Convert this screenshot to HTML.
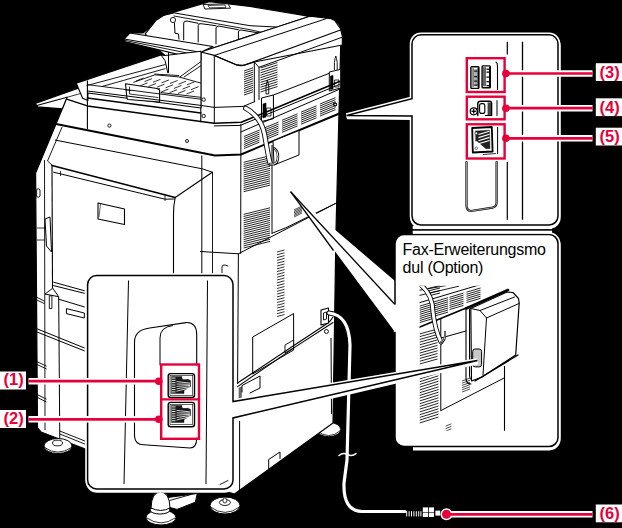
<!DOCTYPE html><html><head><meta charset="utf-8"><style>
html,body{margin:0;padding:0;background:#000;}
svg{display:block;}
text{font-family:"Liberation Sans",sans-serif;}
</style></head><body>
<svg width="622" height="528" viewBox="0 0 622 528">
<rect width="622" height="528" fill="#000"/>
<ellipse cx="328.7" cy="429.5" rx="12" ry="7.2" fill="#fff" stroke="#000" stroke-width="1"/>
<path d="M316.8,430.5 Q328.7,441 340.6,430.5" fill="none" stroke="#000" stroke-width="0.8" stroke-linejoin="round" stroke-linecap="round" />
<polygon points="35.3,103.5 78.3,88.1 75.8,83.4 165.0,55.5 157.0,48.5 124.5,41.5 124.2,39.0 129.8,33.0 143.0,33.0 165.0,14.6 207.8,3.1 250.0,7.3 335.0,20.0 339.7,25.0 341.0,35.0 338.5,132.0 336.0,230.0 333.0,423.0 234.5,494.0 84.0,448.5 41.0,432.0 37.5,428.0 35.6,173.0 67.1,97.3 62.5,108.9 37.7,106.9" fill="#fff" stroke="#000" stroke-width="1.2" stroke-linejoin="round" />
<polygon points="145.2,33.9 155.8,20.6 163.8,15.3 209.5,1.6 250.0,6.4 295.0,14.0 309.2,16.4 200.8,52.0 157.0,48.5" fill="#fff" stroke="#000" stroke-width="1.1" stroke-linejoin="round" />
<polygon points="203.0,4.5 228.0,3.8 230.5,8.2 205.0,9.0" fill="#fff" stroke="#000" stroke-width="0.9" stroke-linejoin="round" />
<polygon points="208.0,5.5 225.0,5.0 226.0,7.4 209.5,7.8" fill="#fff" stroke="#000" stroke-width="0.7" stroke-linejoin="round" />
<polyline points="163.8,15.3 174.0,12.9 250.0,25.7 276.0,27.0" fill="none" stroke="#000" stroke-width="1" stroke-linejoin="round" stroke-linecap="round" />
<polyline points="174.0,16.0 250.0,29.7 261.4,32.3" fill="none" stroke="#000" stroke-width="0.9" stroke-linejoin="round" stroke-linecap="round" />
<path d="M183.7,39.8 V23 Q184,20.6 187,21 L198.2,23.3" fill="none" stroke="#000" stroke-width="1" stroke-linejoin="round" stroke-linecap="round" />
<path d="M198.2,42 V25.5 Q198.5,23.3 201,23.7 L216,25.7" fill="none" stroke="#000" stroke-width="1" stroke-linejoin="round" stroke-linecap="round" />
<path d="M216,44 V28 Q216.3,25.7 219,26.1 L238.4,29.7" fill="none" stroke="#000" stroke-width="1" stroke-linejoin="round" stroke-linecap="round" />
<path d="M238.4,44 V32 Q238.7,29.7 241,30 L262,33.5" fill="none" stroke="#000" stroke-width="1" stroke-linejoin="round" stroke-linecap="round" />
<path d="M174.4,22.6 L175,33.2 L178.4,33.9 L179,39.2" fill="none" stroke="#000" stroke-width="1" stroke-linejoin="round" stroke-linecap="round" />
<circle cx="173" cy="20" r="2.6" fill="#fff" stroke="#000" stroke-width="0.9"/>
<polygon points="200.8,52.0 309.2,16.4 312.5,16.4 331.0,18.7 334.8,20.6 340.5,28.7 342.3,36.2 342.3,45.0 254.3,62.0 243.4,65.4 236.8,64.9 214.4,55.4" fill="#fff" stroke="#000" stroke-width="1.1" stroke-linejoin="round" />
<polyline points="214.4,55.4 326.2,18.7" fill="none" stroke="#000" stroke-width="1" stroke-linejoin="round" stroke-linecap="round" />
<path d="M214.4,55.4 L236.8,64.9 Q240,66 243.4,65.4 L340.5,30.1" fill="none" stroke="#000" stroke-width="1.1" stroke-linejoin="round" stroke-linecap="round" />
<polyline points="259.0,67.3 342.3,37.2" fill="none" stroke="#000" stroke-width="1" stroke-linejoin="round" stroke-linecap="round" />
<line x1="254.3" y1="62" x2="259" y2="67.3" stroke="#000" stroke-width="0.9" />
<line x1="200.8" y1="52" x2="200.8" y2="121" stroke="#000" stroke-width="1.1" />
<line x1="214.3" y1="55.4" x2="214.3" y2="123" stroke="#000" stroke-width="1" />
<polygon points="124.2,39.0 129.8,33.0 213.0,46.5 200.8,52.3 200.8,59.9 124.5,41.5" fill="#fff" stroke="#000" stroke-width="1.1" stroke-linejoin="round" />
<line x1="124.2" y1="39" x2="200.8" y2="52.3" stroke="#000" stroke-width="1" />
<line x1="124.5" y1="40.3" x2="200.8" y2="55.8" stroke="#000" stroke-width="0.9" />
<polygon points="76.3,83.3 161.0,55.0 165.0,55.5 201.0,51.3 201.0,108.0 87.9,93.0 87.9,100.5 82.6,98.2" fill="#fff" stroke="#000" stroke-width="1.1" stroke-linejoin="round" />
<line x1="36.75" y1="105.5" x2="67.1" y2="97.3" stroke="#000" stroke-width="1.1" />
<line x1="67.1" y1="97.3" x2="80.5" y2="93.5" stroke="#000" stroke-width="0.8" />
<path d="M161,55 L165,60.5 L167.8,72.8" fill="none" stroke="#000" stroke-width="1" stroke-linejoin="round" stroke-linecap="round" />
<line x1="168.5" y1="52" x2="168.5" y2="72.8" stroke="#000" stroke-width="1" />
<polyline points="154.8,74.1 178.7,75.5" fill="none" stroke="#000" stroke-width="0.9" stroke-linejoin="round" stroke-linecap="round" />
<polyline points="87.0,85.5 165.0,64.6" fill="none" stroke="#000" stroke-width="0.9" stroke-linejoin="round" stroke-linecap="round" />
<polyline points="102.0,86.5 165.0,68.7" fill="none" stroke="#000" stroke-width="0.9" stroke-linejoin="round" stroke-linecap="round" />
<polyline points="133.7,82.3 154.8,74.8 178.7,76.9 200.6,83.0" fill="none" stroke="#000" stroke-width="0.9" stroke-linejoin="round" stroke-linecap="round" />
<polyline points="161.0,92.6 200.6,97.3" fill="none" stroke="#000" stroke-width="0.9" stroke-linejoin="round" stroke-linecap="round" />
<line x1="136" y1="81.0" x2="143.5" y2="78.0" stroke="#000" stroke-width="0.8" />
<line x1="144.5" y1="81.6" x2="152.0" y2="78.6" stroke="#000" stroke-width="0.8" />
<line x1="153.0" y1="82.3" x2="160.5" y2="79.3" stroke="#000" stroke-width="0.8" />
<line x1="161.5" y1="82.9" x2="169.0" y2="79.9" stroke="#000" stroke-width="0.8" />
<line x1="170.0" y1="83.5" x2="177.5" y2="80.5" stroke="#000" stroke-width="0.8" />
<line x1="178.5" y1="84.2" x2="186.0" y2="81.2" stroke="#000" stroke-width="0.8" />
<line x1="187.0" y1="84.8" x2="194.5" y2="81.8" stroke="#000" stroke-width="0.8" />
<line x1="140" y1="85.9" x2="147.5" y2="82.9" stroke="#000" stroke-width="0.8" />
<line x1="148.5" y1="86.5" x2="156.0" y2="83.5" stroke="#000" stroke-width="0.8" />
<line x1="157.0" y1="87.2" x2="164.5" y2="84.2" stroke="#000" stroke-width="0.8" />
<line x1="165.5" y1="87.8" x2="173.0" y2="84.8" stroke="#000" stroke-width="0.8" />
<line x1="174.0" y1="88.4" x2="181.5" y2="85.4" stroke="#000" stroke-width="0.8" />
<line x1="182.5" y1="89.1" x2="190.0" y2="86.1" stroke="#000" stroke-width="0.8" />
<line x1="191.0" y1="89.7" x2="198.5" y2="86.7" stroke="#000" stroke-width="0.8" />
<line x1="144" y1="90.8" x2="151.5" y2="87.8" stroke="#000" stroke-width="0.8" />
<line x1="152.5" y1="91.4" x2="160.0" y2="88.4" stroke="#000" stroke-width="0.8" />
<line x1="161.0" y1="92.1" x2="168.5" y2="89.1" stroke="#000" stroke-width="0.8" />
<line x1="169.5" y1="92.7" x2="177.0" y2="89.7" stroke="#000" stroke-width="0.8" />
<line x1="178.0" y1="93.4" x2="185.5" y2="90.4" stroke="#000" stroke-width="0.8" />
<line x1="186.5" y1="94.0" x2="194.0" y2="91.0" stroke="#000" stroke-width="0.8" />
<polyline points="180.0,76.9 200.6,61.8" fill="none" stroke="#000" stroke-width="0.9" stroke-linejoin="round" stroke-linecap="round" />
<polyline points="184.2,76.9 200.6,65.9" fill="none" stroke="#000" stroke-width="0.9" stroke-linejoin="round" stroke-linecap="round" />
<path d="M125.5,83.7 L157,88.5 L159.6,90 V102 L128,99.5 Q126.8,99 126.8,97 Z" fill="#fff" stroke="#000" stroke-width="1.1" stroke-linejoin="round" stroke-linecap="round" />
<polyline points="129.5,87.0 129.5,94.0 158.0,97.5" fill="none" stroke="#000" stroke-width="0.8" stroke-linejoin="round" stroke-linecap="round" />
<polyline points="126.0,90.0 131.0,90.5" fill="none" stroke="#000" stroke-width="0.7" stroke-linejoin="round" stroke-linecap="round" />
<line x1="87.4" y1="80.5" x2="87.4" y2="129" stroke="#000" stroke-width="1.1" />
<polyline points="87.4,84.6 200.8,99.2" fill="none" stroke="#000" stroke-width="0.9" stroke-linejoin="round" stroke-linecap="round" />
<polyline points="87.4,91.0 200.8,105.4" fill="none" stroke="#000" stroke-width="1" stroke-linejoin="round" stroke-linecap="round" />
<polyline points="87.4,98.0 200.8,113.1" fill="none" stroke="#000" stroke-width="1.5" stroke-linejoin="round" stroke-linecap="round" />
<polyline points="67.4,99.4 87.4,105.9 200.8,121.5" fill="none" stroke="#000" stroke-width="1.5" stroke-linejoin="round" stroke-linecap="round" />
<circle cx="203.7" cy="99.6" r="1.7" fill="none" stroke="#000" stroke-width="0.9"/>
<circle cx="203.7" cy="116" r="1.7" fill="none" stroke="#000" stroke-width="0.9"/>
<circle cx="109.4" cy="125.6" r="1.6" fill="none" stroke="#000" stroke-width="0.9"/>
<line x1="254.3" y1="62" x2="254.3" y2="102" stroke="#000" stroke-width="1" />
<line x1="259" y1="67.3" x2="259" y2="100" stroke="#000" stroke-width="1" />
<line x1="244.0" y1="71.0" x2="253.0" y2="67.8" stroke="#000" stroke-width="0.85" />
<line x1="244.0" y1="73.2" x2="253.0" y2="70.0" stroke="#000" stroke-width="0.85" />
<line x1="244.0" y1="75.4" x2="253.0" y2="72.2" stroke="#000" stroke-width="0.85" />
<line x1="244.0" y1="77.5" x2="253.0" y2="74.3" stroke="#000" stroke-width="0.85" />
<line x1="244.0" y1="79.7" x2="253.0" y2="76.5" stroke="#000" stroke-width="0.85" />
<line x1="244.0" y1="81.9" x2="253.0" y2="78.7" stroke="#000" stroke-width="0.85" />
<line x1="244.0" y1="84.1" x2="253.0" y2="80.9" stroke="#000" stroke-width="0.85" />
<line x1="244.0" y1="86.3" x2="253.0" y2="83.1" stroke="#000" stroke-width="0.85" />
<line x1="244.0" y1="88.5" x2="253.0" y2="85.3" stroke="#000" stroke-width="0.85" />
<line x1="244.0" y1="90.6" x2="253.0" y2="87.4" stroke="#000" stroke-width="0.85" />
<line x1="244.0" y1="92.8" x2="253.0" y2="89.6" stroke="#000" stroke-width="0.85" />
<line x1="244.0" y1="95.0" x2="253.0" y2="91.8" stroke="#000" stroke-width="0.85" />
<line x1="260.5" y1="68.0" x2="277.5" y2="62.5" stroke="#000" stroke-width="0.85" />
<line x1="260.5" y1="70.4" x2="277.5" y2="64.9" stroke="#000" stroke-width="0.85" />
<line x1="260.5" y1="72.8" x2="277.5" y2="67.3" stroke="#000" stroke-width="0.85" />
<line x1="260.5" y1="75.2" x2="277.5" y2="69.7" stroke="#000" stroke-width="0.85" />
<line x1="260.5" y1="77.6" x2="277.5" y2="72.1" stroke="#000" stroke-width="0.85" />
<line x1="260.5" y1="80.0" x2="277.5" y2="74.5" stroke="#000" stroke-width="0.85" />
<line x1="260.5" y1="82.4" x2="277.5" y2="76.9" stroke="#000" stroke-width="0.85" />
<line x1="260.5" y1="84.8" x2="277.5" y2="79.3" stroke="#000" stroke-width="0.85" />
<line x1="260.5" y1="87.2" x2="277.5" y2="81.7" stroke="#000" stroke-width="0.85" />
<line x1="260.5" y1="89.6" x2="277.5" y2="84.1" stroke="#000" stroke-width="0.85" />
<line x1="260.5" y1="92.0" x2="277.5" y2="86.5" stroke="#000" stroke-width="0.85" />
<polyline points="272.7,95.3 329.3,73.3" fill="none" stroke="#000" stroke-width="1" stroke-linejoin="round" stroke-linecap="round" />
<line x1="273" y1="95.3" x2="273.3" y2="109.3" stroke="#000" stroke-width="1" />
<polygon points="261.5,98.0 273.4,95.0 273.4,118.7 261.5,121.5" fill="#fff" stroke="#000" stroke-width="1" stroke-linejoin="round" />
<polygon points="263.0,104.0 266.0,103.0 266.0,117.0 263.0,118.0" fill="#000" stroke="#000" stroke-width="0.6" stroke-linejoin="round" />
<path d="M267,108 h4 v8 h-4 z" fill="none" stroke="#000" stroke-width="0.8" stroke-linejoin="round" stroke-linecap="round" />
<polygon points="329.3,72.0 340.7,69.3 340.7,88.0 329.3,91.0" fill="#fff" stroke="#000" stroke-width="1" stroke-linejoin="round" />
<polygon points="330.5,76.0 333.0,75.5 333.0,89.0 330.5,89.5" fill="#000" stroke="#000" stroke-width="0.6" stroke-linejoin="round" />
<path d="M335,80 h4 v7 h-4 z" fill="none" stroke="#000" stroke-width="0.8" stroke-linejoin="round" stroke-linecap="round" />
<path d="M266,93.5 Q265.3,86 267.4,80 Q269.4,86 268.8,93.5 Z" fill="none" stroke="#000" stroke-width="0.9" stroke-linejoin="round" stroke-linecap="round" />
<path d="M334.4,69.5 V62.5 Q335,58 335.8,56 Q336.6,58 337.2,62.5 V69.5" fill="none" stroke="#000" stroke-width="0.9" stroke-linejoin="round" stroke-linecap="round" />
<polyline points="200.8,121.5 214.3,123.3 241.3,122.3 339.4,81.5" fill="none" stroke="#000" stroke-width="1.6" stroke-linejoin="round" stroke-linecap="round" />
<polyline points="214.3,125.9 240.3,125.4 339.4,84.5" fill="none" stroke="#000" stroke-width="1" stroke-linejoin="round" stroke-linecap="round" />
<polyline points="241.0,131.9 339.4,89.3" fill="none" stroke="#000" stroke-width="1" stroke-linejoin="round" stroke-linecap="round" />
<circle cx="335.2" cy="104.4" r="1.5" fill="none" stroke="#000" stroke-width="0.9"/>
<polyline points="56.0,124.0 215.0,155.5 241.0,154.5 339.4,113.5" fill="none" stroke="#000" stroke-width="1.9" stroke-linejoin="round" stroke-linecap="round" />
<line x1="240.9" y1="123.9" x2="240.7" y2="253.8" stroke="#000" stroke-width="1" />
<polyline points="200.8,105.4 214.3,107.4 243.2,106.4 254.8,101.6" fill="none" stroke="#000" stroke-width="1" stroke-linejoin="round" stroke-linecap="round" />
<line x1="244.0" y1="136.5" x2="259.5" y2="130.1" stroke="#000" stroke-width="0.85" />
<line x1="244.0" y1="138.5" x2="259.5" y2="132.1" stroke="#000" stroke-width="0.85" />
<line x1="244.0" y1="140.5" x2="259.5" y2="134.1" stroke="#000" stroke-width="0.85" />
<line x1="244.0" y1="142.5" x2="259.5" y2="136.1" stroke="#000" stroke-width="0.85" />
<line x1="244.0" y1="144.5" x2="259.5" y2="138.1" stroke="#000" stroke-width="0.85" />
<line x1="244.0" y1="146.5" x2="259.5" y2="140.1" stroke="#000" stroke-width="0.85" />
<line x1="244.0" y1="148.5" x2="259.5" y2="142.1" stroke="#000" stroke-width="0.85" />
<line x1="263.0" y1="128.5" x2="278.5" y2="122.1" stroke="#000" stroke-width="0.85" />
<line x1="263.0" y1="130.5" x2="278.5" y2="124.1" stroke="#000" stroke-width="0.85" />
<line x1="263.0" y1="132.5" x2="278.5" y2="126.1" stroke="#000" stroke-width="0.85" />
<line x1="263.0" y1="134.5" x2="278.5" y2="128.1" stroke="#000" stroke-width="0.85" />
<line x1="263.0" y1="136.5" x2="278.5" y2="130.1" stroke="#000" stroke-width="0.85" />
<line x1="263.0" y1="138.5" x2="278.5" y2="132.1" stroke="#000" stroke-width="0.85" />
<line x1="263.0" y1="140.5" x2="278.5" y2="134.1" stroke="#000" stroke-width="0.85" />
<line x1="282.0" y1="120.3" x2="297.5" y2="113.9" stroke="#000" stroke-width="0.85" />
<line x1="282.0" y1="122.3" x2="297.5" y2="115.9" stroke="#000" stroke-width="0.85" />
<line x1="282.0" y1="124.3" x2="297.5" y2="117.9" stroke="#000" stroke-width="0.85" />
<line x1="282.0" y1="126.3" x2="297.5" y2="119.9" stroke="#000" stroke-width="0.85" />
<line x1="282.0" y1="128.3" x2="297.5" y2="121.9" stroke="#000" stroke-width="0.85" />
<line x1="282.0" y1="130.3" x2="297.5" y2="123.9" stroke="#000" stroke-width="0.85" />
<line x1="282.0" y1="132.3" x2="297.5" y2="125.9" stroke="#000" stroke-width="0.85" />
<line x1="301.0" y1="112.2" x2="316.5" y2="105.8" stroke="#000" stroke-width="0.85" />
<line x1="301.0" y1="114.2" x2="316.5" y2="107.8" stroke="#000" stroke-width="0.85" />
<line x1="301.0" y1="116.2" x2="316.5" y2="109.8" stroke="#000" stroke-width="0.85" />
<line x1="301.0" y1="118.2" x2="316.5" y2="111.8" stroke="#000" stroke-width="0.85" />
<line x1="301.0" y1="120.2" x2="316.5" y2="113.8" stroke="#000" stroke-width="0.85" />
<line x1="301.0" y1="122.2" x2="316.5" y2="115.8" stroke="#000" stroke-width="0.85" />
<line x1="301.0" y1="124.2" x2="316.5" y2="117.8" stroke="#000" stroke-width="0.85" />
<line x1="320.0" y1="104.0" x2="335.5" y2="97.6" stroke="#000" stroke-width="0.85" />
<line x1="320.0" y1="106.0" x2="335.5" y2="99.6" stroke="#000" stroke-width="0.85" />
<line x1="320.0" y1="108.0" x2="335.5" y2="101.6" stroke="#000" stroke-width="0.85" />
<line x1="320.0" y1="110.0" x2="335.5" y2="103.6" stroke="#000" stroke-width="0.85" />
<line x1="320.0" y1="112.0" x2="335.5" y2="105.6" stroke="#000" stroke-width="0.85" />
<line x1="320.0" y1="114.0" x2="335.5" y2="107.6" stroke="#000" stroke-width="0.85" />
<line x1="320.0" y1="116.0" x2="335.5" y2="109.6" stroke="#000" stroke-width="0.85" />
<line x1="243.6" y1="162.3" x2="270.0" y2="155.7" stroke="#000" stroke-width="0.85" />
<line x1="243.6" y1="164.4" x2="270.0" y2="157.8" stroke="#000" stroke-width="0.85" />
<line x1="243.6" y1="166.5" x2="270.0" y2="159.9" stroke="#000" stroke-width="0.85" />
<line x1="243.6" y1="168.6" x2="270.0" y2="162.0" stroke="#000" stroke-width="0.85" />
<line x1="243.6" y1="170.7" x2="270.0" y2="164.1" stroke="#000" stroke-width="0.85" />
<line x1="243.6" y1="172.8" x2="270.0" y2="166.2" stroke="#000" stroke-width="0.85" />
<line x1="243.6" y1="174.9" x2="270.0" y2="168.3" stroke="#000" stroke-width="0.85" />
<line x1="243.6" y1="177.0" x2="270.0" y2="170.4" stroke="#000" stroke-width="0.85" />
<line x1="243.6" y1="179.1" x2="270.0" y2="172.5" stroke="#000" stroke-width="0.85" />
<line x1="243.6" y1="181.2" x2="270.0" y2="174.6" stroke="#000" stroke-width="0.85" />
<line x1="243.6" y1="183.3" x2="270.0" y2="176.7" stroke="#000" stroke-width="0.85" />
<line x1="243.6" y1="185.4" x2="270.0" y2="178.8" stroke="#000" stroke-width="0.85" />
<line x1="243.6" y1="187.5" x2="270.0" y2="180.9" stroke="#000" stroke-width="0.85" />
<line x1="243.6" y1="189.6" x2="270.0" y2="183.0" stroke="#000" stroke-width="0.85" />
<line x1="243.6" y1="191.7" x2="270.0" y2="185.1" stroke="#000" stroke-width="0.85" />
<line x1="243.6" y1="214.4" x2="270.0" y2="207.8" stroke="#000" stroke-width="0.85" />
<line x1="243.6" y1="216.5" x2="270.0" y2="209.9" stroke="#000" stroke-width="0.85" />
<line x1="243.6" y1="218.6" x2="270.0" y2="212.0" stroke="#000" stroke-width="0.85" />
<line x1="243.6" y1="220.7" x2="270.0" y2="214.1" stroke="#000" stroke-width="0.85" />
<line x1="243.6" y1="222.8" x2="270.0" y2="216.2" stroke="#000" stroke-width="0.85" />
<line x1="243.6" y1="224.9" x2="270.0" y2="218.3" stroke="#000" stroke-width="0.85" />
<line x1="243.6" y1="227.0" x2="270.0" y2="220.4" stroke="#000" stroke-width="0.85" />
<line x1="243.6" y1="229.1" x2="270.0" y2="222.5" stroke="#000" stroke-width="0.85" />
<line x1="243.6" y1="231.2" x2="270.0" y2="224.6" stroke="#000" stroke-width="0.85" />
<line x1="243.6" y1="233.3" x2="270.0" y2="226.7" stroke="#000" stroke-width="0.85" />
<line x1="243.6" y1="235.4" x2="270.0" y2="228.8" stroke="#000" stroke-width="0.85" />
<line x1="243.6" y1="237.5" x2="270.0" y2="230.9" stroke="#000" stroke-width="0.85" />
<line x1="243.6" y1="239.6" x2="270.0" y2="233.0" stroke="#000" stroke-width="0.85" />
<line x1="243.6" y1="241.7" x2="270.0" y2="235.1" stroke="#000" stroke-width="0.85" />
<line x1="243.6" y1="243.8" x2="270.0" y2="237.2" stroke="#000" stroke-width="0.85" />
<line x1="243.6" y1="245.9" x2="270.0" y2="239.3" stroke="#000" stroke-width="0.85" />
<line x1="243.6" y1="248.0" x2="270.0" y2="241.4" stroke="#000" stroke-width="0.85" />
<line x1="272" y1="145" x2="272" y2="233.3" stroke="#000" stroke-width="1" />
<polygon points="273.0,141.0 299.0,130.5 299.0,155.0 274.0,165.0" fill="#fff" stroke="#000" stroke-width="1" stroke-linejoin="round" />
<polyline points="272.0,233.3 286.0,227.7 336.5,203.0" fill="none" stroke="#000" stroke-width="1" stroke-linejoin="round" stroke-linecap="round" />
<line x1="294.0" y1="210.0" x2="302.0" y2="206.0" stroke="#000" stroke-width="0.7" />
<line x1="294.0" y1="211.4" x2="302.0" y2="207.4" stroke="#000" stroke-width="0.7" />
<line x1="294.0" y1="212.8" x2="302.0" y2="208.8" stroke="#000" stroke-width="0.7" />
<line x1="294.0" y1="214.2" x2="302.0" y2="210.2" stroke="#000" stroke-width="0.7" />
<line x1="294.0" y1="215.6" x2="302.0" y2="211.6" stroke="#000" stroke-width="0.7" />
<line x1="294.0" y1="217.0" x2="302.0" y2="213.0" stroke="#000" stroke-width="0.7" />
<polyline points="238.4,253.8 336.5,203.0" fill="none" stroke="#000" stroke-width="1" stroke-linejoin="round" stroke-linecap="round" />
<line x1="277.0" y1="252.0" x2="284.5" y2="250.0" stroke="#000" stroke-width="0.8" />
<line x1="277.0" y1="254.8" x2="284.5" y2="252.8" stroke="#000" stroke-width="0.8" />
<line x1="277.0" y1="257.6" x2="284.5" y2="255.6" stroke="#000" stroke-width="0.8" />
<line x1="277.0" y1="260.4" x2="284.5" y2="258.4" stroke="#000" stroke-width="0.8" />
<line x1="277.0" y1="263.2" x2="284.5" y2="261.2" stroke="#000" stroke-width="0.8" />
<line x1="277.0" y1="266.0" x2="284.5" y2="264.0" stroke="#000" stroke-width="0.8" />
<line x1="277.0" y1="268.8" x2="284.5" y2="266.8" stroke="#000" stroke-width="0.8" />
<line x1="277.0" y1="271.6" x2="284.5" y2="269.6" stroke="#000" stroke-width="0.8" />
<line x1="277.0" y1="274.4" x2="284.5" y2="272.4" stroke="#000" stroke-width="0.8" />
<line x1="277.0" y1="277.2" x2="284.5" y2="275.2" stroke="#000" stroke-width="0.8" />
<line x1="277.0" y1="280.0" x2="284.5" y2="278.0" stroke="#000" stroke-width="0.8" />
<line x1="277.0" y1="282.8" x2="284.5" y2="280.8" stroke="#000" stroke-width="0.8" />
<line x1="277.0" y1="285.7" x2="284.5" y2="283.7" stroke="#000" stroke-width="0.8" />
<line x1="277.0" y1="288.5" x2="284.5" y2="286.5" stroke="#000" stroke-width="0.8" />
<line x1="277.0" y1="291.3" x2="284.5" y2="289.3" stroke="#000" stroke-width="0.8" />
<line x1="277.0" y1="294.1" x2="284.5" y2="292.1" stroke="#000" stroke-width="0.8" />
<line x1="277.0" y1="296.9" x2="284.5" y2="294.9" stroke="#000" stroke-width="0.8" />
<line x1="277.0" y1="299.7" x2="284.5" y2="297.7" stroke="#000" stroke-width="0.8" />
<line x1="277.0" y1="302.5" x2="284.5" y2="300.5" stroke="#000" stroke-width="0.8" />
<line x1="277.0" y1="305.3" x2="284.5" y2="303.3" stroke="#000" stroke-width="0.8" />
<line x1="277.0" y1="308.1" x2="284.5" y2="306.1" stroke="#000" stroke-width="0.8" />
<line x1="277.0" y1="310.9" x2="284.5" y2="308.9" stroke="#000" stroke-width="0.8" />
<line x1="277.0" y1="313.7" x2="284.5" y2="311.7" stroke="#000" stroke-width="0.8" />
<line x1="277.0" y1="316.5" x2="284.5" y2="314.5" stroke="#000" stroke-width="0.8" />
<polyline points="55.3,140.1 202.2,168.8 212.3,172.2" fill="none" stroke="#000" stroke-width="1" stroke-linejoin="round" stroke-linecap="round" />
<polyline points="52.0,165.4 175.2,197.5" fill="none" stroke="#000" stroke-width="1.6" stroke-linejoin="round" stroke-linecap="round" />
<polyline points="175.2,197.5 212.3,172.2" fill="none" stroke="#000" stroke-width="1.1" stroke-linejoin="round" stroke-linecap="round" />
<polyline points="53.6,172.2 165.0,199.2 174.0,199.0" fill="none" stroke="#000" stroke-width="1" stroke-linejoin="round" stroke-linecap="round" />
<line x1="60.5" y1="171" x2="60.5" y2="176" stroke="#000" stroke-width="0.8" />
<line x1="165" y1="194" x2="165" y2="201" stroke="#000" stroke-width="0.8" />
<polyline points="62.0,127.3 47.5,161.0 52.8,165.7" fill="none" stroke="#000" stroke-width="0.9" stroke-linejoin="round" stroke-linecap="round" />
<path d="M175.2,197.5 Q173.5,205 173.5,215 V448" fill="none" stroke="#000" stroke-width="1.1" stroke-linejoin="round" stroke-linecap="round" />
<line x1="52" y1="165.4" x2="52.5" y2="288.5" stroke="#000" stroke-width="1.1" />
<line x1="44.5" y1="160" x2="45" y2="430" stroke="#000" stroke-width="0.9" />
<line x1="201.8" y1="155.5" x2="201.8" y2="446" stroke="#000" stroke-width="1" />
<line x1="212.5" y1="172" x2="212.5" y2="446" stroke="#000" stroke-width="0.9" />
<circle cx="187" cy="141" r="1.5" fill="none" stroke="#000" stroke-width="0.9"/>
<polyline points="200.5,251.5 238.4,253.8" fill="none" stroke="#000" stroke-width="1" stroke-linejoin="round" stroke-linecap="round" />
<path d="M222,273 V267 Q222,264.5 225,265 L228,266" fill="none" stroke="#000" stroke-width="0.9" stroke-linejoin="round" stroke-linecap="round" />
<polygon points="98.0,203.0 124.5,209.0 124.5,224.5 98.0,219.0" fill="#fff" stroke="#000" stroke-width="1.1" stroke-linejoin="round" />
<line x1="100.5" y1="204" x2="99" y2="217" stroke="#000" stroke-width="0.6" />
<path d="M37,189 q2,-1 3,1 v6 q-1,2 -3,1 z" fill="none" stroke="#000" stroke-width="0.9" stroke-linejoin="round" stroke-linecap="round" />
<polygon points="45.0,219.0 50.0,217.0 51.5,252.0 46.5,246.0" fill="#fff" stroke="#000" stroke-width="1" stroke-linejoin="round" />
<line x1="37" y1="228" x2="45" y2="228" stroke="#000" stroke-width="0.8" />
<line x1="37" y1="240" x2="45" y2="240" stroke="#000" stroke-width="0.8" />
<circle cx="335" cy="104.4" r="1.5" fill="none" stroke="#000" stroke-width="0.9"/>
<polygon points="45.0,294.1 52.7,288.2 58.7,296.7" fill="#fff" stroke="#000" stroke-width="1" stroke-linejoin="round" />
<line x1="58.7" y1="296.7" x2="59.8" y2="442" stroke="#000" stroke-width="1" />
<polygon points="49.3,295.8 51.9,295.8 51.9,308.6 49.3,308.6" fill="#fff" stroke="#000" stroke-width="0.9" stroke-linejoin="round" />
<polyline points="53.6,282.2 84.3,290.7" fill="none" stroke="#000" stroke-width="1" stroke-linejoin="round" stroke-linecap="round" />
<polyline points="53.6,285.6 84.3,293.3" fill="none" stroke="#000" stroke-width="1" stroke-linejoin="round" stroke-linecap="round" />
<polyline points="58.7,299.2 84.3,306.9" fill="none" stroke="#000" stroke-width="1" stroke-linejoin="round" stroke-linecap="round" />
<polygon points="66.4,308.6 84.3,313.0 84.3,318.0 66.4,313.6" fill="#fff" stroke="#000" stroke-width="1" stroke-linejoin="round" />
<polyline points="35.7,296.7 44.2,301.0" fill="none" stroke="#000" stroke-width="0.9" stroke-linejoin="round" stroke-linecap="round" />
<polyline points="35.7,299.5 44.2,303.5" fill="none" stroke="#000" stroke-width="0.9" stroke-linejoin="round" stroke-linecap="round" />
<polyline points="35.7,328.3 84.3,347.9" fill="none" stroke="#000" stroke-width="1" stroke-linejoin="round" stroke-linecap="round" />
<polyline points="35.7,331.5 84.3,350.8" fill="none" stroke="#000" stroke-width="1" stroke-linejoin="round" stroke-linecap="round" />
<polyline points="37.0,361.6 46.2,366.0" fill="none" stroke="#000" stroke-width="0.9" stroke-linejoin="round" stroke-linecap="round" />
<polyline points="37.0,364.5 46.2,368.8" fill="none" stroke="#000" stroke-width="0.9" stroke-linejoin="round" stroke-linecap="round" />
<polyline points="37.0,394.5 46.2,399.0" fill="none" stroke="#000" stroke-width="0.9" stroke-linejoin="round" stroke-linecap="round" />
<polyline points="37.0,397.3 46.2,401.8" fill="none" stroke="#000" stroke-width="0.9" stroke-linejoin="round" stroke-linecap="round" />
<polyline points="59.8,431.0 84.8,441.0" fill="none" stroke="#000" stroke-width="0.9" stroke-linejoin="round" stroke-linecap="round" />
<polyline points="59.8,434.0 84.8,444.0" fill="none" stroke="#000" stroke-width="0.9" stroke-linejoin="round" stroke-linecap="round" />
<ellipse cx="58" cy="446" rx="14" ry="7.5" fill="#fff" stroke="#000" stroke-width="1"/>
<ellipse cx="57.5" cy="443" rx="5" ry="2.8" fill="#fff" stroke="#000" stroke-width="0.9"/>
<path d="M44.5,447.5 Q58,457 71.5,447.5" fill="none" stroke="#000" stroke-width="0.8" stroke-linejoin="round" stroke-linecap="round" />
<line x1="239.6" y1="421" x2="239.6" y2="492" stroke="#000" stroke-width="1" />
<path d="M268.7,468.5 V459.5 L280,452 V458.5" fill="none" stroke="#000" stroke-width="1" stroke-linejoin="round" stroke-linecap="round" />
<polygon points="252.7,337.0 293.6,313.6 293.6,350.0 252.7,374.0" fill="#fff" stroke="#000" stroke-width="1" stroke-linejoin="round" />
<polygon points="285.0,345.0 293.6,340.0 293.6,348.0 285.0,353.0" fill="#fff" stroke="#000" stroke-width="0.9" stroke-linejoin="round" />
<path d="M237.6,383 L295,344.8 L328,323 Q331,320.5 333,317" fill="none" stroke="#000" stroke-width="1.1" stroke-linejoin="round" stroke-linecap="round" />
<path d="M237.6,386.6 L295,347.1 L333,322.5" fill="none" stroke="#000" stroke-width="1.1" stroke-linejoin="round" stroke-linecap="round" />
<line x1="238.4" y1="253.8" x2="237.6" y2="384" stroke="#000" stroke-width="1" />
<path d="M242,392 L242,385.5 L260,376 V388 L250,393" fill="none" stroke="#000" stroke-width="1" stroke-linejoin="round" stroke-linecap="round" />
<line x1="239.2" y1="387.5" x2="239.2" y2="399.5" stroke="#000" stroke-width="0.7" />
<line x1="240.2" y1="387.1" x2="240.2" y2="399.1" stroke="#000" stroke-width="0.7" />
<line x1="241.2" y1="386.8" x2="241.2" y2="398.8" stroke="#000" stroke-width="0.7" />
<polygon points="321.0,310.0 328.5,308.0 328.5,323.0 321.0,325.0" fill="#fff" stroke="#000" stroke-width="1.1" stroke-linejoin="round" />
<polygon points="323.5,313.0 326.5,312.0 326.5,319.0 323.5,320.0" fill="#fff" stroke="#000" stroke-width="0.9" stroke-linejoin="round" />
<circle cx="326.4" cy="331.5" r="2" fill="none" stroke="#000" stroke-width="0.9"/>
<line x1="331" y1="338" x2="331.5" y2="414" stroke="#000" stroke-width="1" />
<ellipse cx="161" cy="517.5" rx="15" ry="7.5" fill="#fff" stroke="#000" stroke-width="1"/>
<path d="M147,518 Q161,528 175,518" fill="none" stroke="#000" stroke-width="0.8" stroke-linejoin="round" stroke-linecap="round" />
<path d="M168,497.5 L197.3,493.5 L195.3,502.2 L177,509.4 L168,507 Z" fill="#fff" stroke="#000" stroke-width="1" stroke-linejoin="round" stroke-linecap="round" />
<line x1="169.5" y1="500.5" x2="191" y2="494.5" stroke="#000" stroke-width="0.9" />
<ellipse cx="160" cy="510" rx="10" ry="4" fill="#fff" stroke="#000" stroke-width="1"/>
<path d="M151,508 Q151.5,492 160.5,492 Q169.5,492 170,508 Q160.5,513 151,508 Z" fill="#fff" stroke="#000" stroke-width="1" stroke-linejoin="round" stroke-linecap="round" />
<ellipse cx="225" cy="505.5" rx="15" ry="8.5" fill="#fff" stroke="#000" stroke-width="1"/>
<path d="M210.5,507 Q225,518 239.5,507" fill="none" stroke="#000" stroke-width="0.8" stroke-linejoin="round" stroke-linecap="round" />
<ellipse cx="224.9" cy="502.5" rx="5.5" ry="3" fill="#fff" stroke="#000" stroke-width="0.9"/>
<ellipse cx="224.9" cy="500.5" rx="2" ry="2.5" fill="#fff" stroke="#000" stroke-width="0.8"/>
<path d="M329,313 Q349,315 350,345 L347,460 L344,483 Q343,511 362,511.5 L405,511.5" fill="none" stroke="#000" stroke-width="5.0" stroke-linecap="round" stroke-linejoin="round"/>
<path d="M329,313 Q349,315 350,345 L347,460 L344,483 Q343,511 362,511.5 L405,511.5" fill="none" stroke="#fff" stroke-width="3.2" stroke-linecap="round" stroke-linejoin="round"/>
<path d="M339,455.5 Q343,452 347.5,454.5 Q352,457 356,453.5" fill="none" stroke="#fff" stroke-width="1.6" stroke-linejoin="round" stroke-linecap="round" />
<rect x="406.2" y="511.2" width="1" height="5.2" fill="#fff"/>
<rect x="408.6" y="511.2" width="1" height="5.2" fill="#fff"/>
<rect x="411" y="511.2" width="1" height="5.2" fill="#fff"/>
<rect x="413.4" y="511.2" width="1" height="5.2" fill="#fff"/>
<rect x="415.8" y="511.2" width="1" height="5.2" fill="#fff"/>
<rect x="418.2" y="511.2" width="1" height="5.2" fill="#fff"/>
<rect x="420.4" y="511.2" width="1" height="5.2" fill="#fff"/>
<rect x="422.8" y="507.4" width="5.2" height="4.6" fill="#fff"/>
<rect x="428.8" y="507.4" width="5.2" height="4.6" fill="#fff"/>
<rect x="422.8" y="512.6" width="5.2" height="4.4" fill="#fff"/>
<rect x="428.8" y="512.6" width="5.2" height="4.4" fill="#fff"/>
<rect x="435.4" y="510.6" width="4.8" height="5" fill="#fff"/>
<circle cx="446.5" cy="514.3" r="6" fill="#fff"/>
<path d="M245.7,108.3 C256,114 262,122 264.5,134 C266.5,145 268,155 270,163" fill="none" stroke="#000" stroke-width="5.2" stroke-linecap="round" stroke-linejoin="round"/>
<path d="M245.7,108.3 C256,114 262,122 264.5,134 C266.5,145 268,155 270,163" fill="none" stroke="#fff" stroke-width="3.4" stroke-linecap="round" stroke-linejoin="round"/>
<path d="M270,164 Q278,166 278,156.5 Q278,151 274.5,148.5" fill="none" stroke="#000" stroke-width="2.4" stroke-linejoin="round" stroke-linecap="round" />
<path d="M270,164 Q278,166 278,156.5 Q278,151 274.5,148.5" fill="none" stroke="#fff" stroke-width="1.0" stroke-linejoin="round" stroke-linecap="round" />
<polygon points="290.6,191.7 395.0,281.0 400.0,281.0 400.0,332.0 395.0,332.0" fill="#fff" stroke="none" stroke-width="0" stroke-linejoin="round" />
<line x1="290.6" y1="191.7" x2="333.5" y2="250.5" stroke="#000" stroke-width="1.3" />
<line x1="290.6" y1="191.7" x2="395" y2="304.5" stroke="#000" stroke-width="1.3" />
<g><path d="M421,34.8 H549 A9,9 0 0 1 558,43.8 V216 A9,9 0 0 1 549,225 H421 A9,9 0 0 1 412,216 V116.1 L346.6,115.4 L412,98.7 V43.8 A9,9 0 0 1 421,34.8 Z" fill="none" stroke="#fff" stroke-width="4.6" stroke-linejoin="miter" stroke-miterlimit="2.5"/>
<path d="M421,34.8 H549 A9,9 0 0 1 558,43.8 V216 A9,9 0 0 1 549,225 H421 A9,9 0 0 1 412,216 V116.1 L346.6,115.4 L412,98.7 V43.8 A9,9 0 0 1 421,34.8 Z" transform="translate(0.4,1.6)" fill="none" stroke="#fff" stroke-width="4.6" stroke-linejoin="miter" stroke-miterlimit="2.5"/></g>
<path d="M421,34.8 H549 A9,9 0 0 1 558,43.8 V216 A9,9 0 0 1 549,225 H421 A9,9 0 0 1 412,216 V116.1 L346.6,115.4 L412,98.7 V43.8 A9,9 0 0 1 421,34.8 Z" fill="#fff" stroke="#000" stroke-width="1.5" stroke-linejoin="miter" stroke-miterlimit="2.5"/>
<line x1="507.3" y1="41.7" x2="507.3" y2="54.5" stroke="#000" stroke-width="1.2" />
<line x1="507.3" y1="162" x2="507.3" y2="219.7" stroke="#000" stroke-width="1.2" />
<line x1="522.5" y1="41.7" x2="522.5" y2="219.7" stroke="#000" stroke-width="1.3" />
<path d="M466.5,162 V205.5 Q466.5,210.5 471,211 L492.5,207.6 Q496.6,206.6 496.6,202.5 V162" fill="none" stroke="#000" stroke-width="2.2" stroke-linejoin="round" stroke-linecap="round" />
<path d="M466.5,162 V205.5 Q466.5,210.5 471,211 L492.5,207.6 Q496.6,206.6 496.6,202.5 V162" fill="none" stroke="#fff" stroke-width="0.6" stroke-linejoin="round" stroke-linecap="round" />
<rect x="470.9" y="66.8" width="8" height="21.6" rx="0.8" fill="#fff" stroke="#000" stroke-width="1.4"/>
<rect x="472.6" y="68.2" width="0.9" height="18.8" fill="#000"/>
<rect x="474.2" y="69" width="3.6" height="17.2" fill="#aaa"/>
<rect x="477.6" y="67.6" width="1.4" height="20" fill="#000"/>
<rect x="474.3" y="70.5" width="3" height="1.3" fill="#111"/>
<rect x="474.3" y="76" width="3" height="1.3" fill="#111"/>
<rect x="474.3" y="80.5" width="3" height="1.3" fill="#111"/>
<rect x="474.3" y="84.5" width="3" height="1.3" fill="#111"/>
<rect x="482.1" y="65.9" width="8.2" height="21.8" rx="0.8" fill="#fff" stroke="#000" stroke-width="1.4"/>
<rect x="482.9" y="67.2" width="3.2" height="19" fill="#666"/>
<rect x="489" y="67" width="1.2" height="20" fill="#000"/>
<rect x="486.5" y="68.5" width="2.8" height="1.3" fill="#111"/>
<rect x="486.5" y="71.5" width="2.8" height="1.3" fill="#111"/>
<rect x="486.5" y="76.5" width="2.8" height="1.3" fill="#111"/>
<rect x="486.5" y="81" width="2.8" height="1.3" fill="#111"/>
<rect x="486.5" y="85" width="2.8" height="1.3" fill="#111"/>
<path d="M496,62 Q497.5,63 497.5,66 V89.5" fill="none" stroke="#000" stroke-width="1.1" stroke-linejoin="round" stroke-linecap="round" />
<circle cx="473.7" cy="111.3" r="3.5" fill="#fff" stroke="#000" stroke-width="1.2"/>
<line x1="471.5" y1="111.3" x2="475.9" y2="111.3" stroke="#000" stroke-width="1.3" />
<line x1="473.7" y1="109.1" x2="473.7" y2="113.5" stroke="#000" stroke-width="1.3" />
<path d="M477.8,115.5 V104 Q477.8,101.3 480.5,101.3 H489.5 Q491.6,101.3 491.6,103.5 V115.5" fill="none" stroke="#000" stroke-width="1.4" stroke-linejoin="round" stroke-linecap="round" />
<rect x="479.6" y="103.6" width="5.2" height="9.8" rx="2" fill="#fff" stroke="#000" stroke-width="1.1"/>
<rect x="487.6" y="102.5" width="3.4" height="13" fill="#444"/>
<line x1="485" y1="115.5" x2="491.5" y2="115.5" stroke="#000" stroke-width="1" />
<line x1="497" y1="100.2" x2="497" y2="115.9" stroke="#000" stroke-width="1" />
<path d="M472.2,128 L491.8,127 L492.6,151.5 L472.8,152.5 Z" fill="#fff" stroke="#000" stroke-width="1.8" stroke-linejoin="round" stroke-linecap="round" />
<path d="M475.5,131 L489.5,130.2 L490,148.5 L486,148.8 L477,141 L475.8,141 Z" fill="#222" stroke="#000" stroke-width="0.4" stroke-linejoin="round" stroke-linecap="round" />
<line x1="478.5" y1="134.5" x2="489.5" y2="131.2" stroke="#fff" stroke-width="1.1" />
<line x1="478.5" y1="137.6" x2="489.5" y2="134.29999999999998" stroke="#fff" stroke-width="1.1" />
<line x1="478.5" y1="140.7" x2="489.5" y2="137.39999999999998" stroke="#fff" stroke-width="1.1" />
<line x1="478.5" y1="143.8" x2="489.5" y2="140.5" stroke="#fff" stroke-width="1.1" />
<circle cx="476.3" cy="133.2" r="1.3" fill="#fff" stroke="#000" stroke-width="0.5"/>
<circle cx="476.3" cy="148.2" r="1.3" fill="#fff" stroke="#000" stroke-width="0.5"/>
<line x1="497.6" y1="127" x2="497.6" y2="154" stroke="#000" stroke-width="1" />
<line x1="483" y1="154.5" x2="496" y2="153.5" stroke="#000" stroke-width="0.8" />
<rect x="466.8" y="58.2" width="37.8" height="33.8" fill="none" stroke="#e5003a" stroke-width="2.4"/>
<rect x="466.8" y="96.7" width="37.8" height="22.6" fill="none" stroke="#e5003a" stroke-width="2.4"/>
<rect x="466.8" y="124.3" width="37.8" height="34.2" fill="none" stroke="#e5003a" stroke-width="2.4"/>
<defs><clipPath id="cbh"><rect x="413" y="0" width="226" height="528"/></clipPath></defs>
<g clip-path="url(#cbh)"><path d="M404,234.5 H549 A9,9 0 0 1 558,243.5 V437.5 A9,9 0 0 1 549,446.5 H404 A9,9 0 0 1 395,437.5 V243.5 A9,9 0 0 1 404,234.5 Z" fill="none" stroke="#fff" stroke-width="4.6" stroke-linejoin="miter" stroke-miterlimit="2.5"/>
<path d="M404,234.5 H549 A9,9 0 0 1 558,243.5 V437.5 A9,9 0 0 1 549,446.5 H404 A9,9 0 0 1 395,437.5 V243.5 A9,9 0 0 1 404,234.5 Z" transform="translate(0.4,1.6)" fill="none" stroke="#fff" stroke-width="4.6" stroke-linejoin="miter" stroke-miterlimit="2.5"/></g>
<path d="M404,234.5 H549 A9,9 0 0 1 558,243.5 V437.5 A9,9 0 0 1 549,446.5 H404 A9,9 0 0 1 395,437.5 V243.5 A9,9 0 0 1 404,234.5 Z" fill="#fff" stroke="#000" stroke-width="1.5" stroke-linejoin="miter" stroke-miterlimit="2.5"/>
<rect x="393.8" y="304.6" width="2.8" height="27.2" fill="#fff"/>
<rect x="412.7" y="226" width="139.3" height="7.6" fill="#fff"/>
<rect x="404" y="229.1" width="150" height="1.6" fill="#000"/>
<text x="402.6" y="254.8" font-size="16" letter-spacing="-0.25" fill="#000">Fax-Erweiterungsmo</text>
<text x="402.6" y="272.9" font-size="16" letter-spacing="-0.25" fill="#000">dul (Option)</text>
<defs><clipPath id="cb"><rect x="419.5" y="285.8" width="110" height="145"/></clipPath></defs>
<g clip-path="url(#cb)">
<polyline points="419.2,290.3 446.0,285.6" fill="none" stroke="#000" stroke-width="0.9" stroke-linejoin="round" stroke-linecap="round" />
<polyline points="419.2,295.5 458.8,286.2" fill="none" stroke="#000" stroke-width="0.9" stroke-linejoin="round" stroke-linecap="round" />
<line x1="428.0" y1="288.5" x2="440.0" y2="285.5" stroke="#000" stroke-width="0.9" />
<line x1="428.0" y1="291.0" x2="440.0" y2="288.0" stroke="#000" stroke-width="0.9" />
<line x1="428.0" y1="293.5" x2="440.0" y2="290.5" stroke="#000" stroke-width="0.9" />
<line x1="428.0" y1="296.0" x2="440.0" y2="293.0" stroke="#000" stroke-width="0.9" />
<polyline points="419.2,302.8 520.0,272.8" fill="none" stroke="#000" stroke-width="1" stroke-linejoin="round" stroke-linecap="round" />
<polyline points="419.2,327.3 468.0,307.3" fill="none" stroke="#000" stroke-width="1.7" stroke-linejoin="round" stroke-linecap="round" />
<polyline points="466.0,308.5 508.0,290.0" fill="none" stroke="#000" stroke-width="2.6" stroke-linejoin="round" stroke-linecap="round" />
<line x1="419.5" y1="306.2" x2="433.5" y2="302.0" stroke="#000" stroke-width="0.85" />
<line x1="419.5" y1="308.3" x2="433.5" y2="304.1" stroke="#000" stroke-width="0.85" />
<line x1="419.5" y1="310.3" x2="433.5" y2="306.1" stroke="#000" stroke-width="0.85" />
<line x1="419.5" y1="312.4" x2="433.5" y2="308.2" stroke="#000" stroke-width="0.85" />
<line x1="419.5" y1="314.4" x2="433.5" y2="310.2" stroke="#000" stroke-width="0.85" />
<line x1="419.5" y1="316.5" x2="433.5" y2="312.3" stroke="#000" stroke-width="0.85" />
<line x1="419.5" y1="318.5" x2="433.5" y2="314.3" stroke="#000" stroke-width="0.85" />
<line x1="419.5" y1="320.6" x2="433.5" y2="316.4" stroke="#000" stroke-width="0.85" />
<line x1="419.5" y1="322.6" x2="433.5" y2="318.4" stroke="#000" stroke-width="0.85" />
<line x1="434.0" y1="301.9" x2="448.0" y2="297.7" stroke="#000" stroke-width="0.85" />
<line x1="434.0" y1="304.0" x2="448.0" y2="299.8" stroke="#000" stroke-width="0.85" />
<line x1="434.0" y1="306.0" x2="448.0" y2="301.8" stroke="#000" stroke-width="0.85" />
<line x1="434.0" y1="308.1" x2="448.0" y2="303.9" stroke="#000" stroke-width="0.85" />
<line x1="434.0" y1="310.1" x2="448.0" y2="305.9" stroke="#000" stroke-width="0.85" />
<line x1="434.0" y1="312.2" x2="448.0" y2="308.0" stroke="#000" stroke-width="0.85" />
<line x1="434.0" y1="314.2" x2="448.0" y2="310.0" stroke="#000" stroke-width="0.85" />
<line x1="434.0" y1="316.3" x2="448.0" y2="312.1" stroke="#000" stroke-width="0.85" />
<line x1="449.5" y1="297.3" x2="463.5" y2="293.1" stroke="#000" stroke-width="0.85" />
<line x1="449.5" y1="299.3" x2="463.5" y2="295.1" stroke="#000" stroke-width="0.85" />
<line x1="449.5" y1="301.4" x2="463.5" y2="297.2" stroke="#000" stroke-width="0.85" />
<line x1="449.5" y1="303.4" x2="463.5" y2="299.2" stroke="#000" stroke-width="0.85" />
<line x1="449.5" y1="305.5" x2="463.5" y2="301.3" stroke="#000" stroke-width="0.85" />
<line x1="449.5" y1="307.5" x2="463.5" y2="303.3" stroke="#000" stroke-width="0.85" />
<line x1="449.5" y1="309.6" x2="463.5" y2="305.4" stroke="#000" stroke-width="0.85" />
<line x1="466.5" y1="292.2" x2="480.5" y2="288.0" stroke="#000" stroke-width="0.85" />
<line x1="466.5" y1="294.3" x2="480.5" y2="290.1" stroke="#000" stroke-width="0.85" />
<line x1="466.5" y1="296.3" x2="480.5" y2="292.1" stroke="#000" stroke-width="0.85" />
<line x1="466.5" y1="298.4" x2="480.5" y2="294.2" stroke="#000" stroke-width="0.85" />
<line x1="466.5" y1="300.4" x2="480.5" y2="296.2" stroke="#000" stroke-width="0.85" />
<line x1="466.5" y1="302.5" x2="480.5" y2="298.3" stroke="#000" stroke-width="0.85" />
<line x1="419.5" y1="334.0" x2="437.5" y2="329.0" stroke="#000" stroke-width="0.85" />
<line x1="419.5" y1="336.7" x2="437.5" y2="331.7" stroke="#000" stroke-width="0.85" />
<line x1="419.5" y1="339.5" x2="437.5" y2="334.5" stroke="#000" stroke-width="0.85" />
<line x1="419.5" y1="342.2" x2="437.5" y2="337.2" stroke="#000" stroke-width="0.85" />
<line x1="419.5" y1="344.9" x2="437.5" y2="339.9" stroke="#000" stroke-width="0.85" />
<line x1="419.5" y1="347.6" x2="437.5" y2="342.6" stroke="#000" stroke-width="0.85" />
<line x1="419.5" y1="350.4" x2="437.5" y2="345.4" stroke="#000" stroke-width="0.85" />
<line x1="419.5" y1="353.1" x2="437.5" y2="348.1" stroke="#000" stroke-width="0.85" />
<line x1="419.5" y1="355.8" x2="437.5" y2="350.8" stroke="#000" stroke-width="0.85" />
<line x1="419.5" y1="358.5" x2="437.5" y2="353.5" stroke="#000" stroke-width="0.85" />
<line x1="419.5" y1="361.3" x2="437.5" y2="356.3" stroke="#000" stroke-width="0.85" />
<line x1="419.5" y1="364.0" x2="437.5" y2="359.0" stroke="#000" stroke-width="0.85" />
<line x1="419.5" y1="379.0" x2="438.5" y2="373.0" stroke="#000" stroke-width="0.85" />
<line x1="419.5" y1="381.8" x2="438.5" y2="375.8" stroke="#000" stroke-width="0.85" />
<line x1="419.5" y1="384.5" x2="438.5" y2="378.5" stroke="#000" stroke-width="0.85" />
<line x1="419.5" y1="387.2" x2="438.5" y2="381.2" stroke="#000" stroke-width="0.85" />
<line x1="419.5" y1="390.0" x2="438.5" y2="384.0" stroke="#000" stroke-width="0.85" />
<line x1="419.5" y1="392.8" x2="438.5" y2="386.8" stroke="#000" stroke-width="0.85" />
<line x1="419.5" y1="395.5" x2="438.5" y2="389.5" stroke="#000" stroke-width="0.85" />
<line x1="419.5" y1="398.2" x2="438.5" y2="392.2" stroke="#000" stroke-width="0.85" />
<line x1="419.5" y1="401.0" x2="438.5" y2="395.0" stroke="#000" stroke-width="0.85" />
<line x1="419.5" y1="403.8" x2="438.5" y2="397.8" stroke="#000" stroke-width="0.85" />
<line x1="419.5" y1="406.5" x2="438.5" y2="400.5" stroke="#000" stroke-width="0.85" />
<line x1="419.5" y1="409.2" x2="438.5" y2="403.2" stroke="#000" stroke-width="0.85" />
<line x1="419.5" y1="412.0" x2="438.5" y2="406.0" stroke="#000" stroke-width="0.85" />
<line x1="419.5" y1="414.8" x2="438.5" y2="408.8" stroke="#000" stroke-width="0.85" />
<line x1="419.5" y1="417.5" x2="438.5" y2="411.5" stroke="#000" stroke-width="0.85" />
<line x1="419.5" y1="420.2" x2="438.5" y2="414.2" stroke="#000" stroke-width="0.85" />
<line x1="419.5" y1="423.0" x2="438.5" y2="417.0" stroke="#000" stroke-width="0.85" />
<line x1="440.8" y1="318.6" x2="440.8" y2="410.6" stroke="#000" stroke-width="1" />
<polyline points="440.8,410.6 504.5,377.8" fill="none" stroke="#000" stroke-width="1" stroke-linejoin="round" stroke-linecap="round" />
<line x1="504.5" y1="366" x2="504.5" y2="431" stroke="#000" stroke-width="1.1" />
<line x1="462.0" y1="381.0" x2="470.0" y2="378.0" stroke="#000" stroke-width="0.7" />
<line x1="462.0" y1="383.2" x2="470.0" y2="380.2" stroke="#000" stroke-width="0.7" />
<line x1="462.0" y1="385.4" x2="470.0" y2="382.4" stroke="#000" stroke-width="0.7" />
<line x1="462.0" y1="387.6" x2="470.0" y2="384.6" stroke="#000" stroke-width="0.7" />
<line x1="462.0" y1="389.8" x2="470.0" y2="386.8" stroke="#000" stroke-width="0.7" />
<line x1="462.0" y1="392.0" x2="470.0" y2="389.0" stroke="#000" stroke-width="0.7" />
<path d="M446,426 l5,-2 M446,428.5 l5,-2 M446,431 l5,-2" fill="none" stroke="#000" stroke-width="0.7" stroke-linejoin="round" stroke-linecap="round" />
<path d="M466,309 V378 Q466,384 471,384" fill="none" stroke="#000" stroke-width="1.1" stroke-linejoin="round" stroke-linecap="round" />
<path d="M469.5,309 V376 Q469.5,380 473,380" fill="none" stroke="#000" stroke-width="1.0" stroke-linejoin="round" stroke-linecap="round" />
<polyline points="441.0,338.0 466.0,331.0" fill="none" stroke="#000" stroke-width="1" stroke-linejoin="round" stroke-linecap="round" />
<polygon points="470.8,308.5 507.0,292.0 513.0,292.5 518.5,298.5 519.2,303.0 515.7,355.0 482.0,377.0 471.5,381.0" fill="#fff" stroke="#000" stroke-width="1.2" stroke-linejoin="round" />
<polyline points="470.8,308.5 480.0,310.5 514.5,297.0" fill="none" stroke="#000" stroke-width="1" stroke-linejoin="round" stroke-linecap="round" />
<polyline points="480.0,310.5 486.5,318.0 519.0,303.5" fill="none" stroke="#000" stroke-width="1" stroke-linejoin="round" stroke-linecap="round" />
<polyline points="486.5,318.0 483.0,375.0" fill="none" stroke="#000" stroke-width="1" stroke-linejoin="round" stroke-linecap="round" />
<polyline points="475.0,381.0 480.0,378.0 518.0,355.0" fill="none" stroke="#000" stroke-width="1.4" stroke-linejoin="round" stroke-linecap="round" />
<rect x="472.7" y="349" width="8.9" height="17.9" rx="2.5" fill="#c8c8c8" stroke="#000" stroke-width="1"/>
<path d="M420,284 Q433,295 433,312 Q435,330 441,342" fill="none" stroke="#000" stroke-width="4.8" stroke-linecap="round" stroke-linejoin="round"/>
<path d="M420,284 Q433,295 433,312 Q435,330 441,342" fill="none" stroke="#fff" stroke-width="3" stroke-linecap="round" stroke-linejoin="round"/>
<path d="M441,342 Q446,341 445,332" fill="none" stroke="#000" stroke-width="2.0" stroke-linejoin="round" stroke-linecap="round" />
<path d="M441,342 Q446,341 445,332" fill="none" stroke="#fff" stroke-width="0.8" stroke-linejoin="round" stroke-linecap="round" />
</g>
<g><path d="M96.6,275.6 H224 A9,9 0 0 1 233,284.6 V401.5 L477.5,360.5 L233,417.9 V479.9 A9,9 0 0 1 224,488.9 H96.6 A9,9 0 0 1 87.6,479.9 V284.6 A9,9 0 0 1 96.6,275.6 Z" fill="none" stroke="#fff" stroke-width="4.6" stroke-linejoin="miter" stroke-miterlimit="2.5"/>
<path d="M96.6,275.6 H224 A9,9 0 0 1 233,284.6 V401.5 L477.5,360.5 L233,417.9 V479.9 A9,9 0 0 1 224,488.9 H96.6 A9,9 0 0 1 87.6,479.9 V284.6 A9,9 0 0 1 96.6,275.6 Z" transform="translate(0.4,1.6)" fill="none" stroke="#fff" stroke-width="4.6" stroke-linejoin="miter" stroke-miterlimit="2.5"/></g>
<path d="M96.6,275.6 H224 A9,9 0 0 1 233,284.6 V401.5 L477.5,360.5 L233,417.9 V479.9 A9,9 0 0 1 224,488.9 H96.6 A9,9 0 0 1 87.6,479.9 V284.6 A9,9 0 0 1 96.6,275.6 Z" fill="#fff" stroke="#000" stroke-width="1.5" stroke-linejoin="miter" stroke-miterlimit="2.5"/>
<line x1="128.5" y1="280.5" x2="124" y2="484" stroke="#000" stroke-width="1" />
<line x1="207.5" y1="280.5" x2="206" y2="484" stroke="#000" stroke-width="1" />
<path d="M134.5,436 V342 Q134.5,330 149.7,328 L186,322.6 Q196.7,322 196.7,335 V365" fill="none" stroke="#000" stroke-width="1.1" stroke-linejoin="round" stroke-linecap="round" />
<path d="M134.5,436 Q135,444.8 143.6,444.8 L190,448 Q196.7,448 196.7,438" fill="none" stroke="#000" stroke-width="1.1" stroke-linejoin="round" stroke-linecap="round" />
<path d="M160,365 V338 Q160,327 172.4,325.6" fill="none" stroke="#000" stroke-width="1.0" stroke-linejoin="round" stroke-linecap="round" />
<path d="M220,484.5 L228,480.5" fill="none" stroke="#000" stroke-width="0.9" stroke-linejoin="round" stroke-linecap="round" />
<rect x="168.2" y="373.6" width="26.3" height="23.9" rx="2.5" fill="#fff" stroke="#000" stroke-width="1.4"/>
<rect x="170" y="375.6" width="22.7" height="19.9" fill="none" stroke="#000" stroke-width="0.6"/>
<path d="M171.5,376.6 H182 V378.6 H186.5 L190.5,380.6 V386.6 L184,390.6 V393.6 H171.5 Z" fill="#1a1a1a" stroke="#000" stroke-width="0.4" stroke-linejoin="round" stroke-linecap="round" />
<line x1="172" y1="378.1" x2="175.5" y2="378.1" stroke="#fff" stroke-width="0.9" />
<line x1="172" y1="380.40000000000003" x2="175.5" y2="380.40000000000003" stroke="#fff" stroke-width="0.9" />
<line x1="172" y1="382.70000000000005" x2="175.5" y2="382.70000000000005" stroke="#fff" stroke-width="0.9" />
<line x1="172" y1="385.0" x2="175.5" y2="385.0" stroke="#fff" stroke-width="0.9" />
<line x1="172" y1="387.3" x2="175.5" y2="387.3" stroke="#fff" stroke-width="0.9" />
<line x1="172" y1="389.6" x2="175.5" y2="389.6" stroke="#fff" stroke-width="0.9" />
<line x1="172" y1="391.90000000000003" x2="175.5" y2="391.90000000000003" stroke="#fff" stroke-width="0.9" />
<line x1="176.5" y1="381.6" x2="190" y2="383.1" stroke="#fff" stroke-width="0.8" />
<line x1="176.5" y1="384.0" x2="190" y2="384.3" stroke="#fff" stroke-width="0.8" />
<line x1="176.5" y1="386.40000000000003" x2="190" y2="385.5" stroke="#fff" stroke-width="0.8" />
<line x1="176.5" y1="388.8" x2="190" y2="386.70000000000005" stroke="#fff" stroke-width="0.8" />
<line x1="176.5" y1="391.20000000000005" x2="190" y2="387.90000000000003" stroke="#fff" stroke-width="0.8" />
<rect x="182.5" y="377.1" width="5" height="2.2" fill="#fff"/>
<rect x="168.2" y="402.4" width="26.3" height="24.3" rx="2.5" fill="#fff" stroke="#000" stroke-width="1.4"/>
<rect x="170" y="404.4" width="22.7" height="20.3" fill="none" stroke="#000" stroke-width="0.6"/>
<path d="M171.5,405.4 H182 V407.4 H186.5 L190.5,409.4 V415.4 L184,419.4 V422.4 H171.5 Z" fill="#1a1a1a" stroke="#000" stroke-width="0.4" stroke-linejoin="round" stroke-linecap="round" />
<line x1="172" y1="406.9" x2="175.5" y2="406.9" stroke="#fff" stroke-width="0.9" />
<line x1="172" y1="409.2" x2="175.5" y2="409.2" stroke="#fff" stroke-width="0.9" />
<line x1="172" y1="411.5" x2="175.5" y2="411.5" stroke="#fff" stroke-width="0.9" />
<line x1="172" y1="413.79999999999995" x2="175.5" y2="413.79999999999995" stroke="#fff" stroke-width="0.9" />
<line x1="172" y1="416.09999999999997" x2="175.5" y2="416.09999999999997" stroke="#fff" stroke-width="0.9" />
<line x1="172" y1="418.4" x2="175.5" y2="418.4" stroke="#fff" stroke-width="0.9" />
<line x1="172" y1="420.7" x2="175.5" y2="420.7" stroke="#fff" stroke-width="0.9" />
<line x1="176.5" y1="410.4" x2="190" y2="411.9" stroke="#fff" stroke-width="0.8" />
<line x1="176.5" y1="412.79999999999995" x2="190" y2="413.09999999999997" stroke="#fff" stroke-width="0.8" />
<line x1="176.5" y1="415.2" x2="190" y2="414.29999999999995" stroke="#fff" stroke-width="0.8" />
<line x1="176.5" y1="417.59999999999997" x2="190" y2="415.5" stroke="#fff" stroke-width="0.8" />
<line x1="176.5" y1="420.0" x2="190" y2="416.7" stroke="#fff" stroke-width="0.8" />
<rect x="182.5" y="405.9" width="5" height="2.2" fill="#fff"/>
<rect x="161.2" y="364.5" width="37.8" height="74.3" fill="none" stroke="#e5003a" stroke-width="2.4"/>
<line x1="161.2" y1="399.4" x2="199" y2="399.4" stroke="#e5003a" stroke-width="2.4"/>
<line x1="505.9" y1="73.5" x2="592.5" y2="73.5" stroke="#fff" stroke-width="6.6"/>
<line x1="505.9" y1="73.5" x2="592.5" y2="73.5" stroke="#e5003a" stroke-width="2.7"/>
<circle cx="505.9" cy="73.5" r="3.8" fill="#e5003a"/>
<rect x="595.8" y="63.2" width="26.2" height="17.8" fill="#fff"/>
<text x="599.5" y="77.5" font-size="16.5" font-weight="bold" fill="#e5003a">(3)</text>
<line x1="505.9" y1="108.2" x2="592.5" y2="108.2" stroke="#fff" stroke-width="6.6"/>
<line x1="505.9" y1="108.2" x2="592.5" y2="108.2" stroke="#e5003a" stroke-width="2.7"/>
<circle cx="505.9" cy="108.2" r="3.8" fill="#e5003a"/>
<rect x="595.8" y="98.3" width="26.2" height="17.8" fill="#fff"/>
<text x="599.5" y="112.6" font-size="16.5" font-weight="bold" fill="#e5003a">(4)</text>
<line x1="505.9" y1="138.3" x2="592.5" y2="138.3" stroke="#fff" stroke-width="6.6"/>
<line x1="505.9" y1="138.3" x2="592.5" y2="138.3" stroke="#e5003a" stroke-width="2.7"/>
<circle cx="505.9" cy="138.3" r="3.8" fill="#e5003a"/>
<rect x="595.8" y="127.7" width="26.2" height="17.8" fill="#fff"/>
<text x="599.5" y="142.0" font-size="16.5" font-weight="bold" fill="#e5003a">(5)</text>
<line x1="28.5" y1="381.2" x2="158.8" y2="381.2" stroke="#fff" stroke-width="6.6"/>
<line x1="28.5" y1="381.2" x2="158.8" y2="381.2" stroke="#e5003a" stroke-width="2.7"/>
<circle cx="158.8" cy="381.2" r="3.8" fill="#e5003a"/>
<rect x="0" y="371.5" width="26" height="18" fill="#fff"/>
<text x="3.6" y="385.0" font-size="16.5" font-weight="bold" fill="#e5003a">(1)</text>
<line x1="28.5" y1="419.3" x2="158.8" y2="419.3" stroke="#fff" stroke-width="6.6"/>
<line x1="28.5" y1="419.3" x2="158.8" y2="419.3" stroke="#e5003a" stroke-width="2.7"/>
<circle cx="158.8" cy="419.3" r="3.8" fill="#e5003a"/>
<rect x="0" y="410" width="26" height="18" fill="#fff"/>
<text x="3.6" y="423.5" font-size="16.5" font-weight="bold" fill="#e5003a">(2)</text>
<line x1="446.5" y1="514.3" x2="592.5" y2="514.3" stroke="#fff" stroke-width="6.6"/>
<line x1="446.5" y1="514.3" x2="592.5" y2="514.3" stroke="#e5003a" stroke-width="2.7"/>
<circle cx="446.5" cy="514.3" r="3.8" fill="#e5003a"/>
<circle cx="446.5" cy="514.3" r="4.5" fill="#e5003a"/>
<rect x="595.8" y="504.5" width="26.2" height="17.8" fill="#fff"/>
<text x="599.5" y="518.8" font-size="16.5" font-weight="bold" fill="#e5003a">(6)</text>
</svg></body></html>
